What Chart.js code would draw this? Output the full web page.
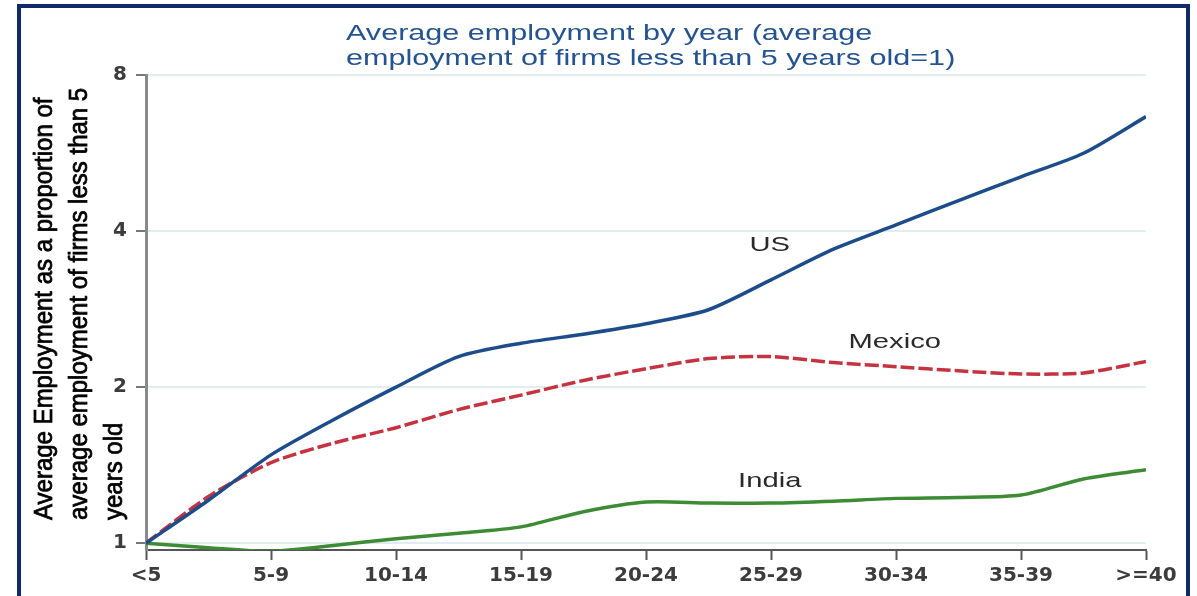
<!DOCTYPE html>
<html><head><meta charset="utf-8">
<script src="https://cdn.jsdelivr.net/npm/chart.js@4.4.1/dist/chart.umd.min.js"></script>
<style>
html,body{margin:0;padding:0;background:#fff;overflow:hidden}
#wrap{position:relative;width:1197px;height:596px}
#frame{position:absolute;left:17px;top:4px;width:1173px;height:700px;border:4px solid #102a6a;box-sizing:border-box;pointer-events:none}
canvas{position:absolute;left:0;top:0}
</style></head><body>
<div id="wrap"><canvas id="c" width="1197" height="596"></canvas><div id="frame"></div></div>
<script>
const categories = ['<5','5-9','10-14','15-19','20-24','25-29','30-34','35-39','>=40'];
const xPositions = [0,0.5,1,1.5,2,2.5,3,3.5,4,4.5,5,5.5,6,6.5,7,7.5,8];
const usValues     = [1.00,1.21,1.48,1.73,2.00,2.29,2.43,2.53,2.65,2.82,3.22,3.69,4.11,4.58,5.09,5.65,6.65];
const mexicoValues = [1.00,1.23,1.43,1.56,1.67,1.81,1.93,2.06,2.17,2.27,2.29,2.23,2.19,2.15,2.12,2.13,2.24];
const indiaValues  = [1.00,0.98,0.965,0.99,1.02,1.045,1.075,1.15,1.20,1.195,1.195,1.205,1.22,1.225,1.238,1.33,1.385];
const yTickValues = [1,2,4,8];
const titleLines = ['Average employment by year (average','employment of firms less than 5 years old=1)'];
const yTitleLines = ['Average Employment as a proportion of','average employment of firms less than 5','years old'];
const seriesLabels = ['US','Mexico','India'];
const labelAnchors = [[4.99,3.76],[5.99,2.44],[4.99,1.317]];

const SX = 1.39;
const textPlugin = {
  id: 'texts',
  afterDraw(chart) {
    const ctx = chart.ctx, xs = chart.scales.x, ys = chart.scales.y;
    ctx.save();
    ctx.textAlign = 'left';
    ctx.textBaseline = 'alphabetic';
    ctx.fillStyle = '#24538f';
    ctx.font = '22px "Liberation Sans", Arial, sans-serif';
    titleLines.forEach((t, i) => {
      ctx.save(); ctx.translate(346, 40 + i * 25); ctx.scale(SX, 1); ctx.fillText(t, 0, 0); ctx.restore();
    });
    ctx.fillStyle = '#000';
    ctx.strokeStyle = '#000';
    ctx.lineWidth = 0.7;
    ctx.font = '24px "Liberation Sans", Arial, sans-serif';
    yTitleLines.forEach((t, i) => {
      ctx.save(); ctx.translate(52 + i * 35, 520); ctx.rotate(-Math.PI / 2); ctx.scale(1, 1.1);
      ctx.fillText(t, 0, 0); ctx.strokeText(t, 0, 0); ctx.restore();
    });
    ctx.fillStyle = '#2a2a2a';
    ctx.font = '21px "Liberation Sans", Arial, sans-serif';
    ctx.textAlign = 'center';
    ctx.textBaseline = 'middle';
    seriesLabels.forEach((t, i) => {
      const px = xs.getPixelForValue(labelAnchors[i][0]);
      const py = ys.getPixelForValue(labelAnchors[i][1]);
      ctx.save(); ctx.translate(px, py); ctx.scale(SX, 1); ctx.fillText(t, 0, 0); ctx.restore();
    });
    ctx.restore();
  }
};

const tickFont = {family: '"DejaVu Sans", sans-serif', size: 20, weight: 'bold'};
new Chart(document.getElementById('c'), {
  type: 'line',
  data: {
    datasets: [
      {label: 'US', data: xPositions.map((x, i) => ({x, y: usValues[i]})), borderColor: '#1d4c8a', borderWidth: 3.5, pointRadius: 0, tension: 0.25, fill: false},
      {label: 'Mexico', data: xPositions.map((x, i) => ({x, y: mexicoValues[i]})), borderColor: '#c63340', borderWidth: 3.5, borderDash: [14, 4], pointRadius: 0, tension: 0.25, fill: false},
      {label: 'India', data: xPositions.map((x, i) => ({x, y: indiaValues[i]})), borderColor: '#3d8b34', borderWidth: 3.5, pointRadius: 0, tension: 0.25, fill: false}
    ]
  },
  options: {
    responsive: false, animation: false, devicePixelRatio: 1,
    layout: {padding: {top: 75, right: 51, left: 0, bottom: 0}},
    plugins: {legend: {display: false}, title: {display: false}, tooltip: {enabled: false}},
    scales: {
      x: {
        type: 'linear', min: 0, max: 8, offset: false,
        afterBuildTicks: s => { s.ticks = categories.map((c, i) => ({value: i})); },
        ticks: {callback: v => categories[v], font: tickFont, color: '#3c3c3c', padding: 4, maxRotation: 0, autoSkip: false},
        grid: {drawOnChartArea: false, drawTicks: true, tickLength: 10, tickColor: '#555', tickWidth: 2},
        border: {display: true, color: '#555', width: 2},
        afterFit: s => { s.height = 46; }
      },
      y: {
        type: 'logarithmic', min: 0.97, max: 8,
        afterBuildTicks: s => { s.ticks = yTickValues.map(v => ({value: v})); },
        ticks: {callback: v => String(v), font: tickFont, color: '#3c3c3c', padding: 9, autoSkip: false},
        grid: {color: '#e1edf1', lineWidth: 2, drawTicks: true, tickLength: 10, tickColor: '#777', tickWidth: 2},
        border: {display: true, color: '#8a8a8a', width: 3},
        afterFit: s => { s.width = 146; }
      }
    }
  },
  plugins: [textPlugin]
});
</script>
</body></html>
